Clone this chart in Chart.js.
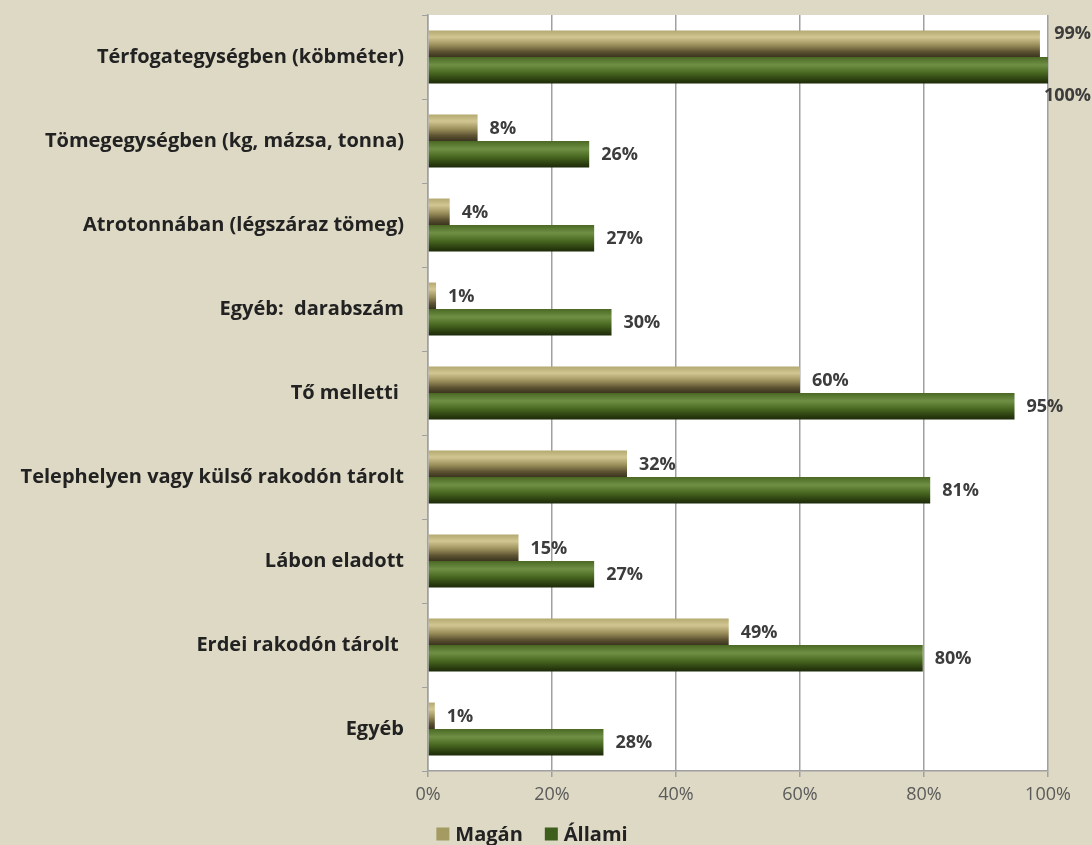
<!DOCTYPE html>
<html>
<head>
<meta charset="utf-8">
<script src="https://cdn.jsdelivr.net/npm/chart.js@4.4.1/dist/chart.umd.min.js"></script>
<style>
    html, body { margin: 0; padding: 0; background: #ddd9c4; }
    #wrap { width: 1092px; height: 845px; position: relative; }
</style>
</head>
<body>
<div id="wrap"><canvas id="chart"></canvas></div>
<script>
const categories = [
    'Térfogategységben (köbméter)',
    'Tömegegységben (kg, mázsa, tonna)',
    'Atrotonnában (légszáraz tömeg)',
    'Egyéb:  darabszám',
    'Tő melletti ',
    'Telephelyen vagy külső rakodón tárolt',
    'Lábon eladott',
    'Erdei rakodón tárolt ',
    'Egyéb'
];
const seriesNames = ['Magán', 'Állami'];
const maganValues = [98.7, 8, 3.5, 1.3, 60, 32.1, 14.6, 48.5, 1.1];
const allamiValues = [100, 26, 26.8, 29.6, 94.6, 81, 26.8, 79.8, 28.3];
const xTicks = [0, 20, 40, 60, 80, 100];

const FONT = '"Open Sans", sans-serif';

// gradient stops for the cylinder look
const shades = [
    [[0, '#b3a86f'], [0.25, '#d2c792'], [0.55, '#9a8f5a'], [0.8, '#5c5232'], [1, '#3b3420']],
    [[0, '#4a6823'], [0.3, '#6f9045'], [0.6, '#486820'], [0.85, '#2c3f10'], [1, '#1d2a09']]
];
const flatColors = ['#a39b62', '#3e5e1e'];

const plotBg = {
    id: 'plotBg',
    beforeDraw(chart) {
        const { ctx, chartArea: a } = chart;
        ctx.save();
        ctx.fillStyle = '#ffffff';
        ctx.fillRect(a.left, a.top, a.right - a.left, a.bottom - a.top);
        ctx.restore();
    }
};

const barShading = {
    id: 'barShading',
    beforeDatasetsDraw(chart) {
        const ctx = chart.ctx;
        chart.getSortedVisibleDatasetMetas().forEach(meta => {
            meta.data.forEach(el => {
                const h = el.height;
                const g = ctx.createLinearGradient(0, el.y - h / 2, 0, el.y + h / 2);
                shades[meta.index].forEach(s => g.addColorStop(s[0], s[1]));
                el.options.backgroundColor = g;
            });
        });
    }
};

const valueLabels = {
    id: 'valueLabels',
    afterDatasetsDraw(chart) {
        const ctx = chart.ctx;
        ctx.save();
        ctx.font = 'bold 18px ' + FONT;
        ctx.fillStyle = '#3c3c3c';
        ctx.textBaseline = 'middle';
        chart.getSortedVisibleDatasetMetas().forEach(meta => {
            const vals = chart.data.datasets[meta.index].data;
            meta.data.forEach((el, i) => {
                const txt = Math.round(vals[i]) + '%';
                const w = ctx.measureText(txt).width;
                let x = el.x + 12;
                let y = el.y + 1;
                if (x + w > chart.width - 4) {
                    // no room on the right: tuck it above / below the bar
                    x = chart.width - w - 1;
                    y = meta.index === 0 ? el.y - el.height / 2 + 3 : el.y + el.height / 2 + 12;
                }
                ctx.fillText(txt, x, y);
            });
        });
        ctx.restore();
    }
};

// legend drawn by hand so the spacing can match
const bottomLegend = {
    id: 'bottomLegend',
    afterDraw(chart) {
        const ctx = chart.ctx;
        ctx.save();
        ctx.font = 'bold 20px ' + FONT;
        ctx.textBaseline = 'middle';
        const box = 13, gap = 6, spacing = 22;
        const widths = seriesNames.map(n => ctx.measureText(n).width);
        const total = widths.reduce((s, w) => s + box + gap + w, 0) + spacing * (seriesNames.length - 1);
        let x = chart.width / 2 - 14 - total / 2;
        const y = chart.height - 11;
        seriesNames.forEach((n, i) => {
            ctx.fillStyle = flatColors[i];
            ctx.fillRect(x, y - box / 2, box, box);
            x += box + gap;
            ctx.fillStyle = '#222';
            ctx.fillText(n, x, y + 1);
            x += widths[i] + spacing;
        });
        ctx.restore();
    }
};

new Chart(document.getElementById('chart'), {
    type: 'bar',
    data: {
        labels: categories,
        datasets: [
            // scriptable colour so each bar keeps its own options object
            { label: seriesNames[0], data: maganValues, backgroundColor: () => flatColors[0] },
            { label: seriesNames[1], data: allamiValues, backgroundColor: () => flatColors[1] }
        ]
    },
    options: {
        indexAxis: 'y',
        responsive: true,
        maintainAspectRatio: false,
        animation: false,
        categoryPercentage: 0.63,
        barPercentage: 1,
        layout: { padding: { top: 15, right: 44, left: 0, bottom: 32 } },
        plugins: {
            legend: { display: false },
            tooltip: { enabled: false }
        },
        scales: {
            x: {
                min: 0, max: 100,
                afterBuildTicks(scale) { scale.ticks = xTicks.map(v => ({ value: v })); },
                afterFit(scale) {
                    scale.height = 42;
                    scale.paddingLeft = 0; scale.paddingRight = 0;
                },
                grid: { color: '#a0a0a0', lineWidth: 1.5, tickLength: 6 },
                border: { color: '#a0a0a0', width: 1.5 },
                ticks: {
                    callback: v => v + '%',
                    color: '#5a5a5a', padding: 7,
                    font: { family: FONT, size: 18 }
                }
            },
            y: {
                afterFit(scale) {
                    scale.width = 428;
                    scale.paddingTop = 0; scale.paddingBottom = 0;
                },
                grid: { drawOnChartArea: false, offset: true, color: '#a0a0a0', tickLength: 6 },
                border: { color: '#a0a0a0', width: 1.5 },
                ticks: {
                    color: '#222', padding: 18,
                    font: { family: FONT, size: 20, weight: 'bold' }
                }
            }
        }
    },
    plugins: [plotBg, barShading, valueLabels, bottomLegend]
});
</script>
</body>
</html>
